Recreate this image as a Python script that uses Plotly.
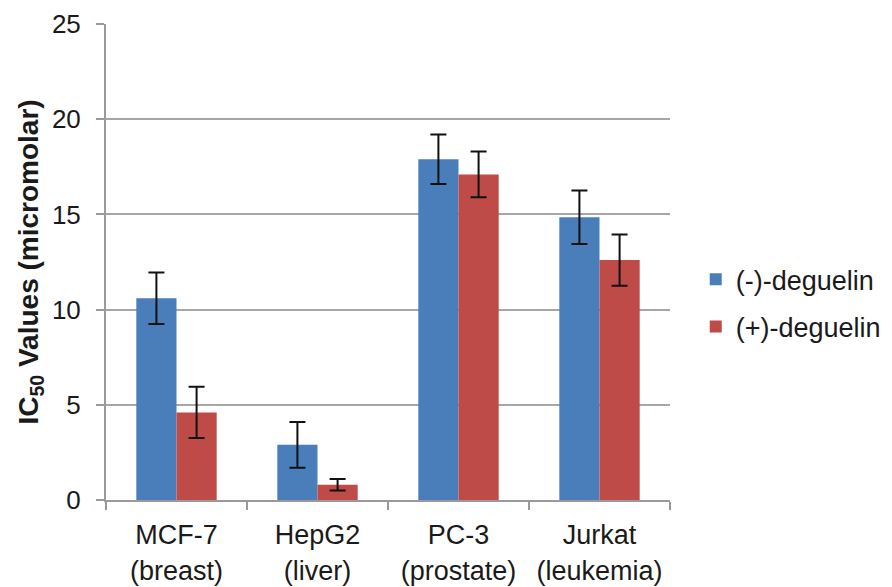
import plotly.graph_objects as go

categories = ["MCF-7<br>(breast)", "HepG2<br>(liver)", "PC-3<br>(prostate)", "Jurkat<br>(leukemia)"]
minus_vals = [10.6, 2.9, 17.9, 14.85]
minus_err = [1.35, 1.2, 1.3, 1.4]
plus_vals = [4.6, 0.8, 17.1, 12.6]
plus_err = [1.35, 0.3, 1.2, 1.35]

fig = go.Figure()
fig.add_trace(go.Bar(
    x=categories, y=minus_vals, name="(-)-deguelin", legendgroup="a",
    marker=dict(color="#4A7EBB", line=dict(width=0)),
    error_y=dict(type="data", array=minus_err, color="#111111", thickness=2, width=8),
))
fig.add_trace(go.Bar(
    x=categories, y=plus_vals, name="(+)-deguelin", legendgroup="b",
    marker=dict(color="#BE4B48", line=dict(width=0)),
    error_y=dict(type="data", array=plus_err, color="#111111", thickness=2, width=8),
))

fig.update_layout(
    width=892, height=587,
    margin=dict(l=98, r=230, t=16, b=95),
    paper_bgcolor="white", plot_bgcolor="white",
    barmode="group", bargap=0.43, bargroupgap=0,
    font=dict(family="Liberation Sans, Arial, sans-serif", size=26, color="#1a1a1a"),
    showlegend=True,
    legend=dict(xref="container", yref="container", x=0.771, y=0.497,
                xanchor="left", yanchor="middle",
                font=dict(size=27), itemwidth=30, tracegroupgap=9,
                bgcolor="rgba(0,0,0,0)"),
    xaxis=dict(
        automargin=False,
        showline=True, linecolor="#9a9a9a", linewidth=2,
        ticks="outside", tickson="boundaries", ticklen=8, tickwidth=2, tickcolor="#9a9a9a",
        tickfont=dict(size=27), showgrid=False, ticklabelstandoff=10,
    ),
    yaxis=dict(
        automargin=False,
        range=[0, 25], tickvals=[0, 5, 10, 15, 20, 25],
        showline=True, linecolor="#9a9a9a", linewidth=2,
        ticks="outside", ticklen=8, tickwidth=2, tickcolor="#9a9a9a",
        showgrid=True, gridcolor="#a6a6a6", gridwidth=2,
        zeroline=False, tickfont=dict(size=26), ticklabelstandoff=10,
        title=dict(text="<b>IC<sub>50</sub> Values (micromolar)</b>", font=dict(size=28), standoff=5),
    ),
)

fig.write_html("out.html")
